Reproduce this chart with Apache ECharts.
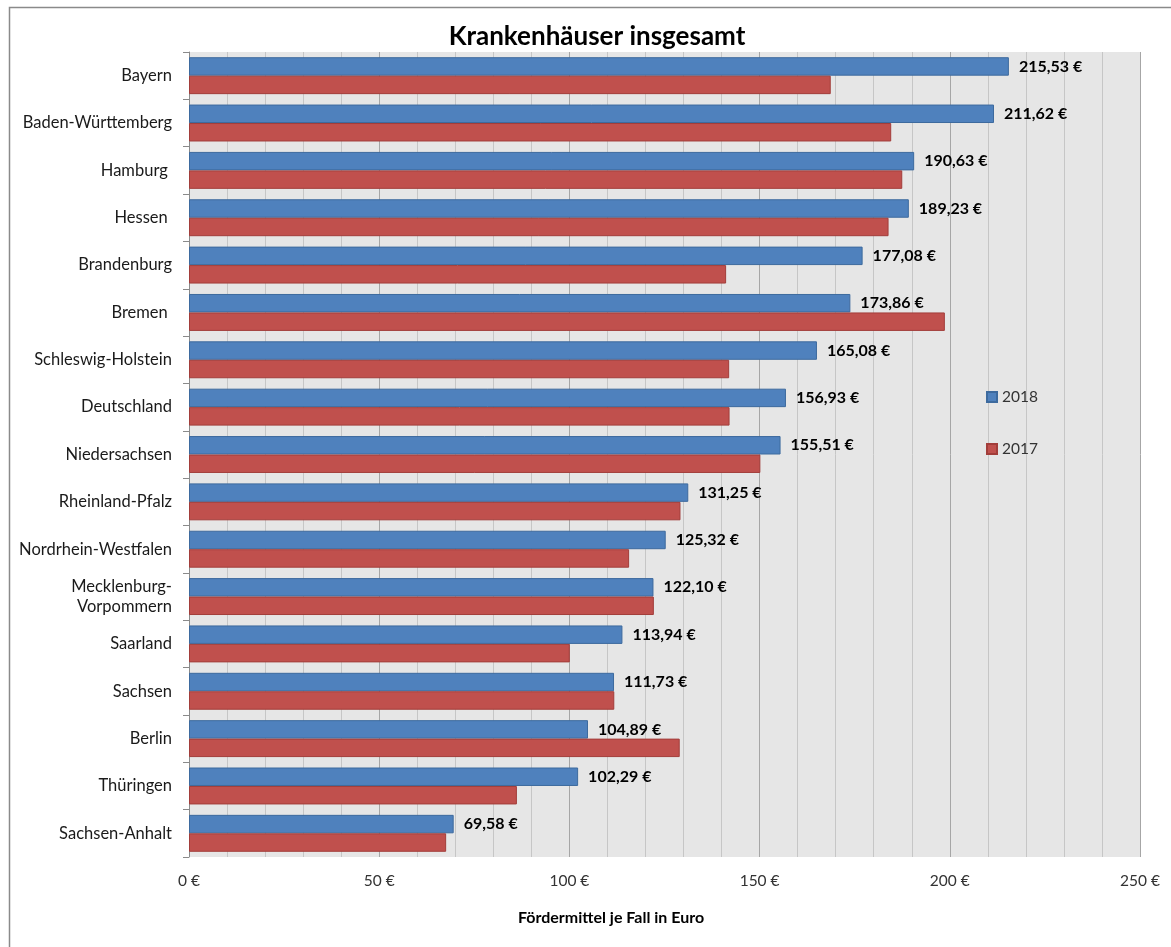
<!DOCTYPE html>
<html>
<head>
<meta charset="utf-8">
<script src="https://cdn.jsdelivr.net/npm/echarts@6/dist/echarts.min.js"></script>
<style>
html,body{margin:0;padding:0;background:#fff;}
#chart{width:1171px;height:947px;}
</style>
</head>
<body>
<div id="chart"></div>
<script>
var categories = ["Bayern","Baden-Württemberg","Hamburg ","Hessen ","Brandenburg","Bremen ","Schleswig-Holstein","Deutschland","Niedersachsen","Rheinland-Pfalz","Nordrhein-Westfalen","Mecklenburg-\nVorpommern","Saarland","Sachsen","Berlin","Thüringen","Sachsen-Anhalt"];
var values2018 = [215.53,211.62,190.63,189.23,177.08,173.86,165.08,156.93,155.51,131.25,125.32,122.10,113.94,111.73,104.89,102.29,69.58];
var values2017 = [168.7,184.6,187.5,183.9,141.2,198.7,142.0,142.1,150.2,129.2,115.7,122.2,100.1,111.8,129.0,86.2,67.6];
var xTicks = [0,50,100,150,200,250];
var seriesNames = ["2018","2017"];
var titleText = "Krankenhäuser insgesamt";
var axisTitle = "Fördermittel je Fall in Euro";

var FONT = "Lato, 'Open Sans', sans-serif";
var chart = echarts.init(document.getElementById('chart'));
function euro(v){ return v.toFixed(2).replace('.', ',') + ' €'; }
chart.setOption({
  animation:false,
  textStyle:{fontFamily:FONT},
  title:[
    {text:titleText,left:592,top:19,textAlign:'center',
     textStyle:{fontFamily:FONT,fontSize:26,fontWeight:'bold',color:'#000'}},
    {text:axisTitle,left:606,top:905,textAlign:'center',
     textStyle:{fontFamily:FONT,fontSize:16,fontWeight:'bold',color:'#000'}}
  ],
  graphic:[{type:'rect',left:7,top:5,z:-10,shape:{width:1300,height:1100},
    style:{fill:null,stroke:'#8a8a8a',lineWidth:1.5}}],
  legend:{orient:'vertical',left:981,top:384,itemWidth:10,itemHeight:10,itemGap:36,
    icon:'rect',
    data:seriesNames,
    textStyle:{fontFamily:FONT,fontSize:15.5,color:'#333',lineHeight:15}},
  grid:{left:189,right:31,top:52,bottom:90,show:true,backgroundColor:'#e6e6e6',borderWidth:0},
  xAxis:{type:'value',min:0,max:250,interval:50,
    axisLine:{show:false},axisTick:{show:false},
    axisLabel:{margin:16,fontFamily:FONT,fontSize:15.5,color:'#333',
      formatter:function(v){return xTicks.indexOf(v)>=0 ? v+' €' : '';}},
    splitLine:{show:true,lineStyle:{color:'#a6a6a6',width:1}},
    minorTick:{show:false,splitNumber:5},
    minorSplitLine:{show:true,lineStyle:{color:'#c6c6c6',width:1}}},
  yAxis:{type:'category',data:categories,inverse:true,
    axisLine:{show:true,lineStyle:{color:'#8a8a8a'}},
    axisTick:{show:true,length:6,lineStyle:{color:'#8a8a8a'}},
    axisLabel:{margin:17,fontFamily:FONT,fontSize:16.5,color:'#1a1a1a',lineHeight:20}},
  series:[
    {name:seriesNames[0],type:'bar',data:values2018,barGap:'0%',barCategoryGap:'22%',
     itemStyle:{color:'#4f81bd',borderColor:'#3d6a9e',borderWidth:1},
     label:{show:true,position:'right',distance:10,fontFamily:FONT,fontSize:16,fontWeight:'bold',color:'#000',
       formatter:function(p){return euro(p.value);}}},
    {name:seriesNames[1],type:'bar',data:values2017,barGap:'0%',barCategoryGap:'22%',
     itemStyle:{color:'#c0504d',borderColor:'#a23d3a',borderWidth:1}}
  ]
});
</script>
</body>
</html>
